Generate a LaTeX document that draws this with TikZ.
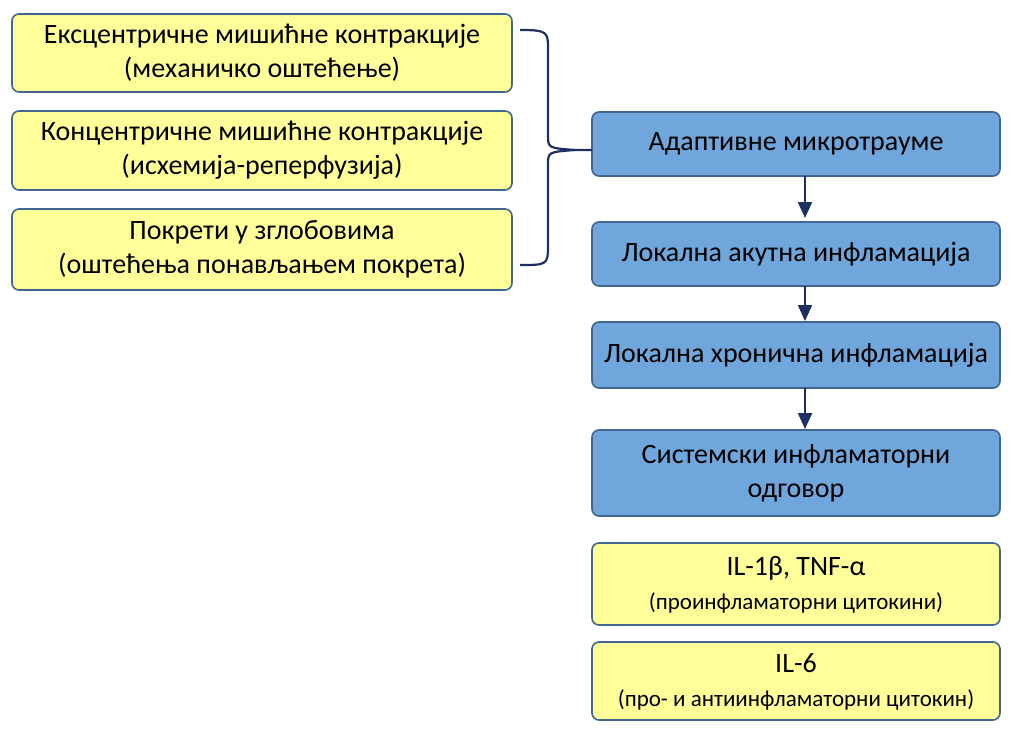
\documentclass[tikz,border=0pt]{standalone}
\usepackage{fontspec}
\setmainfont{Carlito}
\usetikzlibrary{arrows.meta}
\begin{document}
\begin{tikzpicture}[x=1pt,y=-1pt,
 yb/.style={draw=mybord,line width=1.6pt,fill=myyel,rounded corners=7pt},
 bb/.style={draw=mybord,line width=1.6pt,fill=myblue,rounded corners=7pt},
 tx/.style={align=center,text=black,font=\fontsize{28}{34}\selectfont},
 arr/.style={-{Triangle[length=16pt,width=14pt]},line width=2.2pt,draw=mynavy}]
\definecolor{myyel}{HTML}{FFFF99}
\definecolor{myblue}{HTML}{6FA6DB}
\definecolor{mybord}{HTML}{41668F}
\definecolor{mynavy}{HTML}{1F2F60}
\useasboundingbox (0,0) rectangle (1024,733);
\path[yb] (12,14) rectangle (512,92); \node[tx] (e1) at (262,53) {Ексцентричне мишићне контракције\\(механичко оштећење)};
\path[yb] (12,111) rectangle (512,190); \node[tx] (e2) at (262,150) {Концентричне мишићне контракције\\(исхемија-реперфузија)};
\path[yb] (12,209) rectangle (512,290); \node[tx] (e3) at (262,249) {Покрети у зглобовима\\(оштећења понављањем покрета)};
\path[bb] (592,112) rectangle (1000,176); \node[tx] (b1) at (796,144) {Адаптивне микротрауме};
\path[bb] (592,222) rectangle (1000,286); \node[tx] (b2) at (796,254) {Локална акутна инфламација};
\path[bb] (592,322) rectangle (1000,388); \node[tx] (b3) at (796,355) {Локална хронична инфламација};
\path[bb] (592,430) rectangle (1000,516); \node[tx] (b4) at (796,473) {Системски инфламаторни\\одговор};
\path[yb] (592,543) rectangle (1000,625); \node[tx] (y1) at (796,585) {IL-1β, TNF-α\\{\fontsize{23}{28}\selectfont (проинфламаторни цитокини)}};
\path[yb] (592,642) rectangle (1000,720); \node[tx] (y2) at (796,682) {IL-6\\{\fontsize{23}{28}\selectfont (про- и антиинфламаторни цитокин)}};
\coordinate (bt) at (520,30); \coordinate (bbm) at (520,265); \coordinate (tip) at (592,150);
\draw[line width=2.2pt,mynavy] (bt) .. controls (548,30) and (548,32) .. (548,50) -- (548,135) .. controls (548,148) .. (575,150) -- (tip);
\draw[line width=2.2pt,mynavy] (575,150) .. controls (548,152) .. (548,165) -- (548,247) .. controls (548,265) and (546,265) .. (bbm);
\draw[arr] (805,176) -- (805,218);
\draw[arr] (805,286) -- (805,321);
\draw[arr] (805,388) -- (805,429);
\end{tikzpicture}
\end{document}
